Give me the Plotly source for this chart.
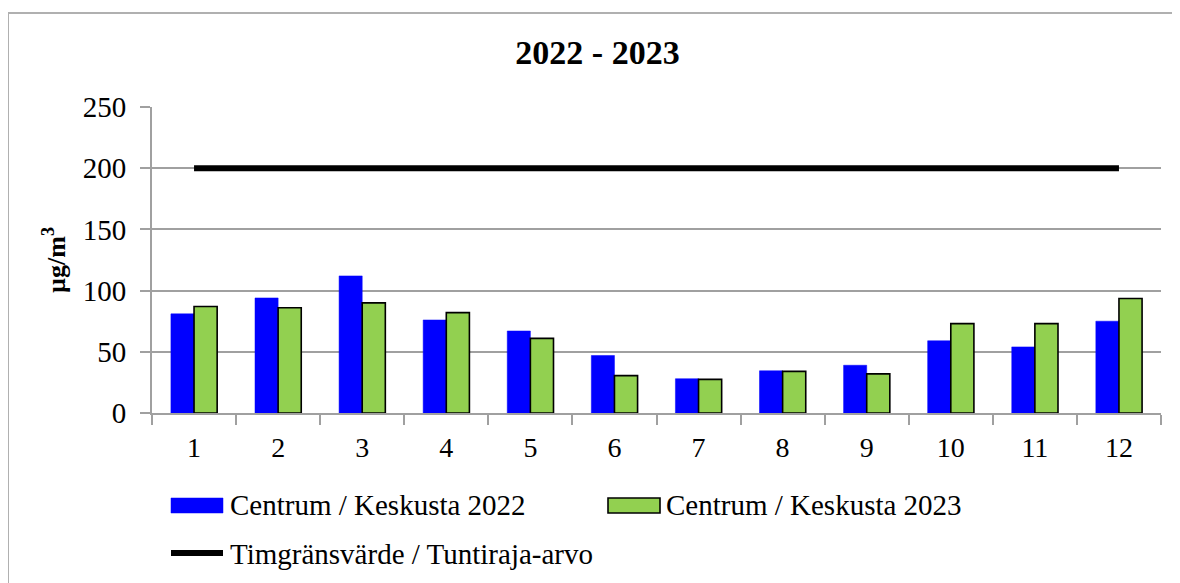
import plotly.graph_objects as go

months = ["1", "2", "3", "4", "5", "6", "7", "8", "9", "10", "11", "12"]
centrum_2022 = [81, 94, 112, 76, 67, 47, 28, 34.5, 39, 59, 54, 75]
centrum_2023 = [87, 86, 90, 82, 61, 30.5, 27.5, 34, 32, 73, 73, 93.5]
limit_value = [200] * 12
series_names = ["Centrum / Keskusta 2022", "Centrum / Keskusta 2023",
                "Timgränsvärde / Tuntiraja-arvo"]

SERIF = "Liberation Serif"
BLUE, GREEN = "#0000ff", "#92d050"

# plot-area geometry in figure pixels
L, R, T, B = 144, 1153, 99, 405
W, H = 1180, 583
PW, PH = R - L, B - T


def px(x):
    return (x - L) / PW


def py(y):
    return (B - y) / PH


fig = go.Figure()
fig.add_trace(go.Bar(x=months, y=centrum_2022, name=series_names[0],
                     marker=dict(color=BLUE, line=dict(color=BLUE, width=0.5))))
fig.add_trace(go.Bar(x=months, y=centrum_2023, name=series_names[1],
                     marker=dict(color=GREEN, line=dict(color="#000000", width=1.6))))
fig.add_trace(go.Scatter(x=months, y=limit_value, name=series_names[2],
                         mode="lines", line=dict(color="#000000", width=6)))

fig.update_layout(
    width=W, height=H,
    margin=dict(l=L, r=W - R, t=T, b=H - B, autoexpand=False),
    paper_bgcolor="white", plot_bgcolor="white",
    font=dict(family=SERIF, size=28, color="#000000"),
    barmode="group", bargap=0.45, bargroupgap=0,
    showlegend=False,
    title=dict(text="<b>2022 - 2023</b>", x=589.5 / W, xanchor="center",
               y=1 - 44 / H, yanchor="middle",
               font=dict(family=SERIF, size=34, color="#000000")),
    xaxis=dict(type="category", range=[-0.5, 11.5], showgrid=False,
               showline=True, linecolor="#a0a0a0", linewidth=2,
               ticks="outside", tickson="boundaries", ticklen=10, tickcolor="#a0a0a0",
               tickwidth=2, tickfont=dict(family=SERIF, size=28), ticklabelstandoff=8,
               automargin=False),
    yaxis=dict(range=[0, 250], tickvals=[0, 50, 100, 150, 200, 250],
               showgrid=True, gridcolor="#a0a0a0", gridwidth=1.5,
               showline=True, linecolor="#a0a0a0", linewidth=2,
               ticks="outside", ticklen=10, tickcolor="#a0a0a0", tickwidth=1.5,
               tickfont=dict(family=SERIF, size=29), ticklabelstandoff=8,
               zeroline=False, automargin=False,
               title=dict(text="<b>µg/m<sup>3</sup></b>", font=dict(family=SERIF, size=26),
                          standoff=10)),
)

# outer chart frame
fig.add_shape(type="rect", xref="paper", yref="paper",
              x0=px(0), x1=px(W + 20), y0=py(H + 20), y1=py(5),
              line=dict(color="#b0b0b0", width=2), fillcolor="rgba(0,0,0,0)", layer="below")

# legend (wide swatches like the original)
sw_y0, sw_y1 = 490, 505
fig.add_shape(type="rect", xref="paper", yref="paper",
              x0=px(163), x1=px(215), y0=py(sw_y1), y1=py(sw_y0),
              line=dict(color=BLUE, width=0.5), fillcolor=BLUE)
fig.add_shape(type="rect", xref="paper", yref="paper",
              x0=px(600), x1=px(652), y0=py(sw_y1), y1=py(sw_y0),
              line=dict(color="#000000", width=1.6), fillcolor=GREEN)
fig.add_shape(type="line", xref="paper", yref="paper",
              x0=px(163), x1=px(215), y0=py(545), y1=py(545),
              line=dict(color="#000000", width=6))
for text, lx, ly in [(series_names[0], 220, 497), (series_names[1], 656, 497),
                     (series_names[2], 220, 546)]:
    fig.add_annotation(text=text, xref="paper", yref="paper", x=px(lx), y=py(ly),
                       xanchor="left", yanchor="middle", showarrow=False,
                       font=dict(family=SERIF, size=29, color="#000000"))

fig.write_html("out.html")
